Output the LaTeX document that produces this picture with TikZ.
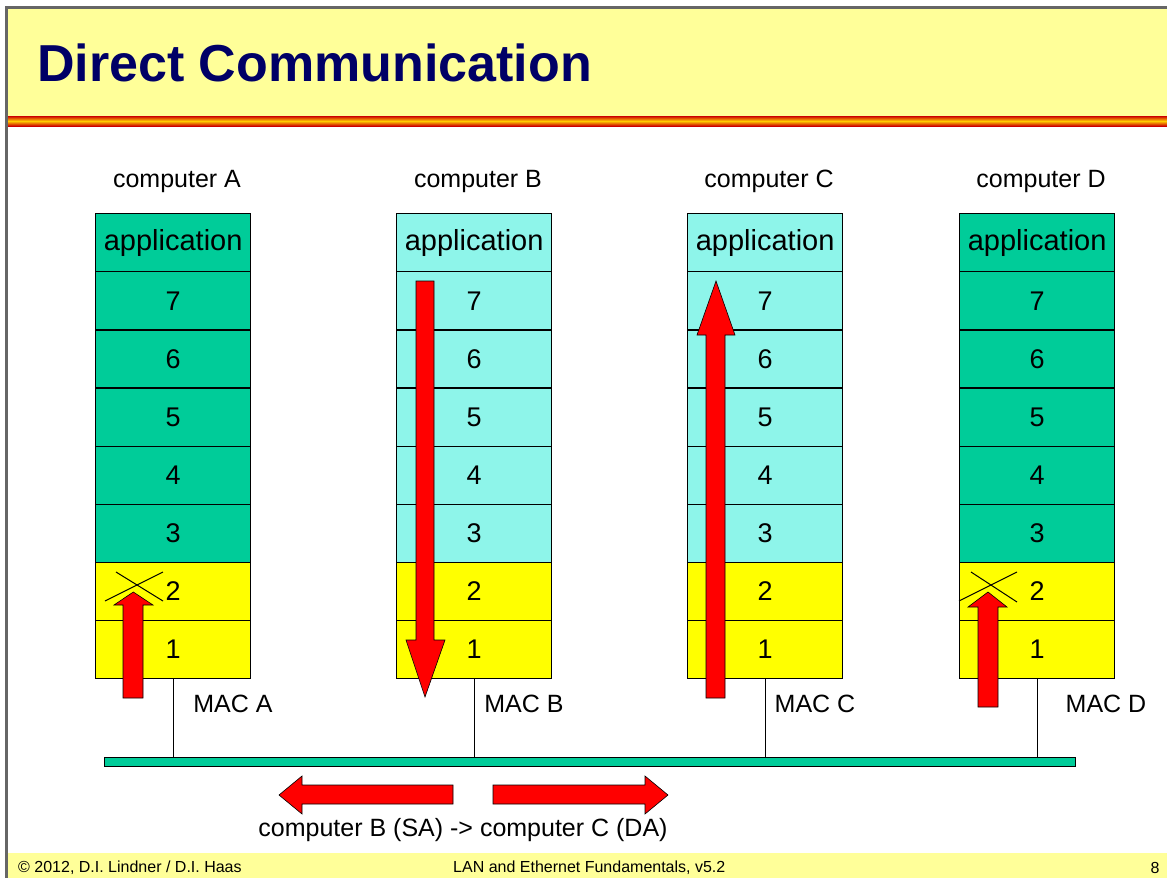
\documentclass[tikz,border=0pt]{standalone}
\usepackage{fontspec}
\setmainfont{Liberation Sans}
\definecolor{bandyellow}{HTML}{FFFF99}
\definecolor{titlenavy}{HTML}{000066}
\definecolor{stackgreen}{HTML}{00CC99}
\definecolor{stackcyan}{HTML}{8EF5EA}
\definecolor{layeryellow}{HTML}{FFFF00}
\definecolor{framegray}{HTML}{666666}
\definecolor{stripered}{HTML}{CC0000}
\definecolor{stripeorange}{HTML}{FFCC00}
\tikzset{
  layerbox/.style={draw=black, line width=1.3pt, minimum width=155pt, minimum height=58.125pt,
    anchor=north west, inner sep=0pt, font=\fontsize{27}{30}\selectfont},
  appbox/.style={layerbox, font=\fontsize{29}{32}\selectfont},
  complabel/.style={font=\fontsize{25}{28}\selectfont, inner sep=0pt},
  maclabel/.style={font=\fontsize{25}{28}\selectfont, inner sep=0pt},
  redarrow/.style={fill=red, draw=black, line width=0.6pt, line join=miter},
  crossline/.style={draw=black, line width=1pt},
  footertext/.style={font=\fontsize{16}{18}\selectfont, inner sep=0pt},
  tap/.style={draw=black, line width=1pt}
}
\begin{document}
\begin{tikzpicture}[x=1pt, y=-1pt]
\useasboundingbox (0,0) rectangle (1167,878);
% frame and bands
\fill[white] (0,0) rectangle (1167,878);
\fill[bandyellow] (7,8) rectangle (1167,116);
\shade[top color=stripered, bottom color=stripered, middle color=stripeorange] (7,116) rectangle (1167,126);
\fill[bandyellow] (7,853) rectangle (1167,878);
\fill[framegray] (5,6) rectangle (1167,8.5);
\fill[framegray] (5,6) rectangle (7.5,878);
% title
\node[anchor=west, text=titlenavy, font=\bfseries\fontsize{52}{56}\selectfont, inner sep=0pt] (title) at (37,63) {Direct Communication};
% stacks
\foreach \n/\x/\c in {A/95/stackgreen, B/396/stackcyan, C/687/stackcyan, D/959/stackgreen}{
  \node[appbox, fill=\c] (\n app) at (\x,213) {application};
  \foreach \k/\r in {7/1,6/2,5/3,4/4,3/5}{
    \node[layerbox, fill=\c] (\n\k) at (\x,213+\r*58.125) {\k};
  }
  \node[layerbox, fill=layeryellow] (\n2) at (\x,213+6*58.125) {2};
  \node[layerbox, fill=layeryellow] (\n1) at (\x,213+7*58.125) {1};
  \node[complabel] (\n lab) at (\x+82,181) {computer \n};
}
% cable
\node[draw=black, line width=1.3pt, fill=stackgreen, anchor=north west, minimum width=971pt, minimum height=9pt, inner sep=0pt] (cable) at (104,757) {};
\foreach \n in {A,B,C,D}{
  \draw[tap] (\n1.south) -- (\n1.south |- cable.north);
}
% MAC labels
\node[maclabel] (macA) at (233,704) {MAC A};
\node[maclabel] (macB) at (524,704) {MAC B};
\node[maclabel] (macC) at (815,704) {MAC C};
\node[maclabel] (macD) at (1106,704) {MAC D};
% red arrows in stacks
\draw[redarrow] (123,698) -- (123,605) -- (114,605) -- (133.3,592) -- (153,605) -- (143,605) -- (143,698) -- cycle;
\draw[redarrow] (978,707) -- (978,607) -- (968,607) -- (988,592) -- (1007,607) -- (998,607) -- (998,707) -- cycle;
\draw[redarrow] (416,281) -- (434,281) -- (434,640) -- (445,640) -- (425,697) -- (406,640) -- (416,640) -- cycle;
\draw[redarrow] (706,698) -- (706,335) -- (697,335) -- (716,281) -- (735,335) -- (725,335) -- (725,698) -- cycle;
% crosses
\draw[crossline] (116,572) -- (163,601);
\draw[crossline] (105,601) -- (163,572);
\draw[crossline] (971,572) -- (1017,602);
\draw[crossline] (959,601) -- (1017,572);
% bottom arrows
\draw[redarrow] (453,785) -- (302,785) -- (302,776) -- (279,795) -- (302,814) -- (302,804) -- (453,804) -- cycle;
\draw[redarrow] (493,785) -- (645,785) -- (645,776) -- (668,795) -- (645,814) -- (645,804) -- (493,804) -- cycle;
\node[maclabel] (flow) at (463,830) {computer B (SA) -> computer C (DA)};
% footer
\node[footertext, anchor=west] (copy) at (18,868) {© 2012, D.I. Lindner / D.I. Haas};
\node[footertext, anchor=west] (course) at (453,868) {LAN and Ethernet Fundamentals, v5.2};
\node[footertext] (page) at (1155,868) {8};
\end{tikzpicture}
\end{document}
